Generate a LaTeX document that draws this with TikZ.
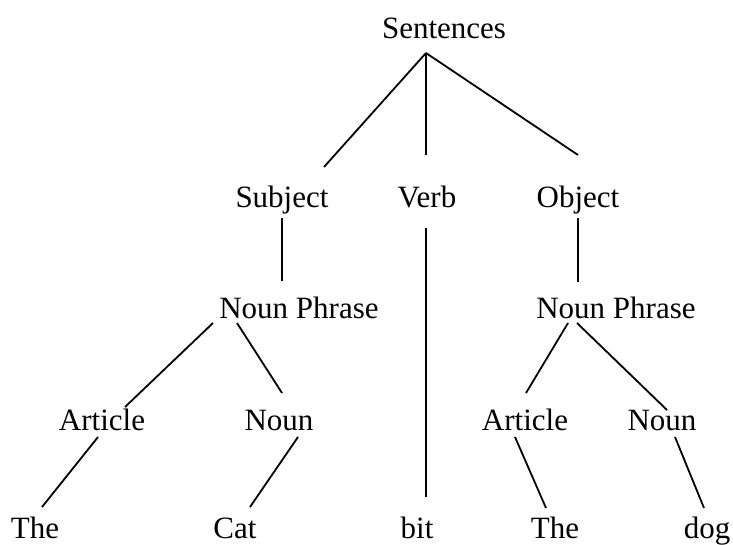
\documentclass[tikz,border=0pt]{standalone}
\usepackage{fontspec}
\setmainfont{Liberation Serif}
\usetikzlibrary{calc}
\tikzset{word/.style={anchor=base, inner sep=0pt, font=\fontsize{31}{36}\selectfont},
  branch/.style={line width=1.8pt}}

\begin{document}
\begin{tikzpicture}[x=1pt,y=-1pt]
\useasboundingbox (0,0) rectangle (733,545);
% words
\node[word] (sent) at (444,39) {Sentences};
\node[word] (subj) at (282,208) {Subject};
\node[word] (verb) at (427,208) {Verb};
\node[word] (obj) at (578,208) {Object};
\node[word] (npa) at (299,318) {Noun Phrase};
\node[word] (npb) at (616,318) {Noun Phrase};
\node[word] (arta) at (102,430) {Article};
\node[word] (nouna) at (279,430) {Noun};
\node[word] (artb) at (525,430) {Article};
\node[word] (nounb) at (662,430) {Noun};
\node[word] (thea) at (35,538) {The};
\node[word] (cat) at (235,538) {Cat};
\node[word] (bit) at (417,538) {bit};
\node[word] (theb) at (555,538) {The};
\node[word] (dog) at (707,538) {dog};
% branches
\draw[branch] ($(sent.base)+(-18,14)$) -- ($(subj.base)+(42,-41)$);
\draw[branch] ($(sent.base)+(-18,14)$) -- ($(verb.base)+(-1,-53)$);
\draw[branch] ($(sent.base)+(-18,14)$) -- ($(obj.base)+(0,-53)$);
\draw[branch] ($(subj.base)+(0,10)$) -- ($(npa.base)+(-17,-37)$);
\draw[branch] ($(verb.base)+(-1,20)$) -- ($(bit.base)+(9,-41)$);
\draw[branch] ($(obj.base)+(0,10)$) -- ($(npb.base)+(-38,-36)$);
\draw[branch] ($(npa.base)+(-86,5)$) -- ($(arta.base)+(23,-23)$);
\draw[branch] ($(npa.base)+(-62,5)$) -- ($(nouna.base)+(3,-37)$);
\draw[branch] ($(npb.base)+(-48,5)$) -- ($(artb.base)+(1,-37)$);
\draw[branch] ($(npb.base)+(-39,5)$) -- ($(nounb.base)+(5,-20)$);
\draw[branch] ($(arta.base)+(-4,7)$) -- ($(thea.base)+(7,-31)$);
\draw[branch] ($(nouna.base)+(19,7)$) -- ($(cat.base)+(15,-31)$);
\draw[branch] ($(artb.base)+(-10,7)$) -- ($(theb.base)+(-9,-30)$);
\draw[branch] ($(nounb.base)+(13,7)$) -- ($(dog.base)+(-3,-30)$);
\end{tikzpicture}
\end{document}
